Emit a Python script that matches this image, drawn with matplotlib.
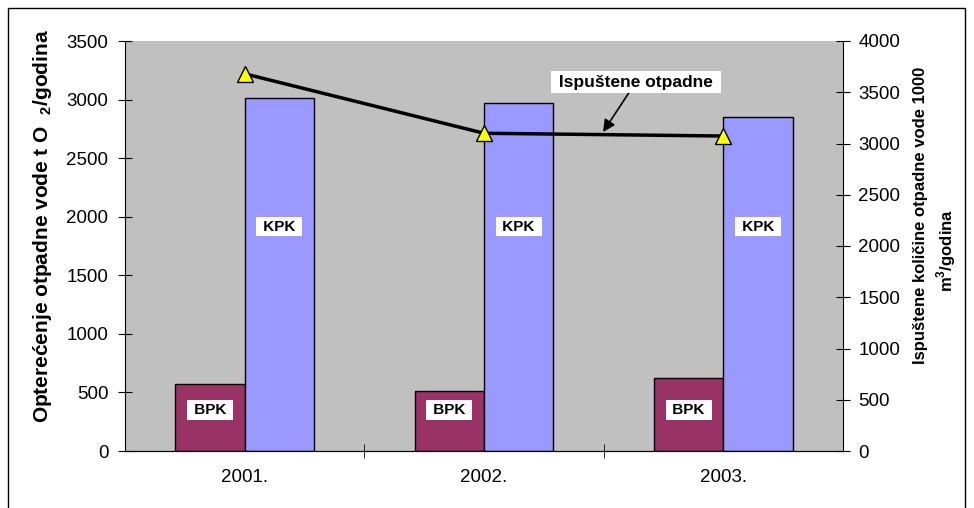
import numpy as np
import matplotlib
matplotlib.use('Agg')
import matplotlib.pyplot as plt
from matplotlib.patches import Rectangle

plt.rcParams['font.family'] = ['Liberation Sans', 'DejaVu Sans']
plt.rcParams['mathtext.fontset'] = 'custom'
plt.rcParams['mathtext.rm'] = 'Liberation Sans'
plt.rcParams['mathtext.bf'] = 'Liberation Sans:bold'

years = ['2001.', '2002.', '2003.']
bpk = [575, 512, 625]
kpk = [3013, 2971, 2851]
ispustene = [3680, 3100, 3073]

x = np.arange(len(years))
w = 0.29

W, H = 974, 508
fig = plt.figure(figsize=(W/100, H/100), dpi=100)
# outer frame of the chart
fig.patches.append(Rectangle((8/W, -0.1), 957/W, 1.1 - 8/H, transform=fig.transFigure,
                             fill=False, edgecolor='black', linewidth=1))

ax = fig.add_axes([125/W, 1-451/H, 718/W, 410/H])
ax.set_facecolor('#C0C0C0')
ax.bar(x - w/2, bpk, w, color='#993366', edgecolor='black', linewidth=1, zorder=2)
ax.bar(x + w/2, kpk, w, color='#9999FF', edgecolor='black', linewidth=1, zorder=2)
ax.set_xlim(-0.5, 2.5)
ax.set_ylim(0, 3500)
ax.set_yticks(np.arange(0, 3501, 500))
ax.set_xticks(x)
ax.set_xticklabels(years)
ax.set_xticks([0.5, 1.5], minor=True)
ax.tick_params(axis='x', which='major', length=0, pad=13, labelsize=13.5)
ax.tick_params(axis='x', which='minor', length=10, direction='inout')
ax.tick_params(axis='y', length=10, direction='inout', labelsize=13.5, pad=7)
ax.spines['top'].set_visible(False)
ax.spines['right'].set_visible(False)

# left axis title
fig.text(43/W, 1-226/H, r'Opterećenje otpadne vode t O  $_{\mathbf{2}}$/godina', fontsize=15,
         fontweight='bold', rotation=90, ha='center', va='center')

for i in x:
    ax.text(i + w/2, 1916, ' KPK ', ha='center', va='center', fontsize=11, fontweight='bold',
            bbox=dict(facecolor='white', edgecolor='none', pad=2), zorder=3)
    ax.text(i - w/2, 350, ' BPK ', ha='center', va='center', fontsize=11, fontweight='bold',
            bbox=dict(facecolor='white', edgecolor='none', pad=2), zorder=3)

ax2 = ax.twinx()
ax2.plot(x, ispustene, color='black', linewidth=2.5, marker='^', markersize=11,
         markerfacecolor='#FFFF00', markeredgecolor='black', markeredgewidth=1)
ax2.set_ylim(0, 4000)
ax2.set_yticks(np.arange(0, 4001, 500))
ax2.tick_params(axis='y', length=10, direction='inout', labelsize=13.5, pad=6)
ax2.spines['top'].set_visible(False)
ax2.spines['left'].set_visible(False)

# right axis title, two lines placed as in the original
fig.text(921/W, 1-215/H, 'Ispuštene količine otpadne vode 1000', fontsize=12,
         fontweight='bold', rotation=90, ha='center', va='center')
fig.text(946/W, 1-250/H, r'm$^{\mathbf{3}}$/godina', fontsize=12,
         fontweight='bold', rotation=90, ha='center', va='center')

ax2.annotate(' Ispuštene otpadne ', xy=(1.4975, 3112), xytext=(1.635, 3600),
             ha='center', va='center', fontsize=12.5, fontweight='bold',
             bbox=dict(facecolor='white', edgecolor='none', pad=2.5),
             arrowprops=dict(arrowstyle='-|>', color='black', linewidth=1.2, mutation_scale=18,
                             shrinkA=0, shrinkB=0))

fig.savefig('out.png', dpi=100)
